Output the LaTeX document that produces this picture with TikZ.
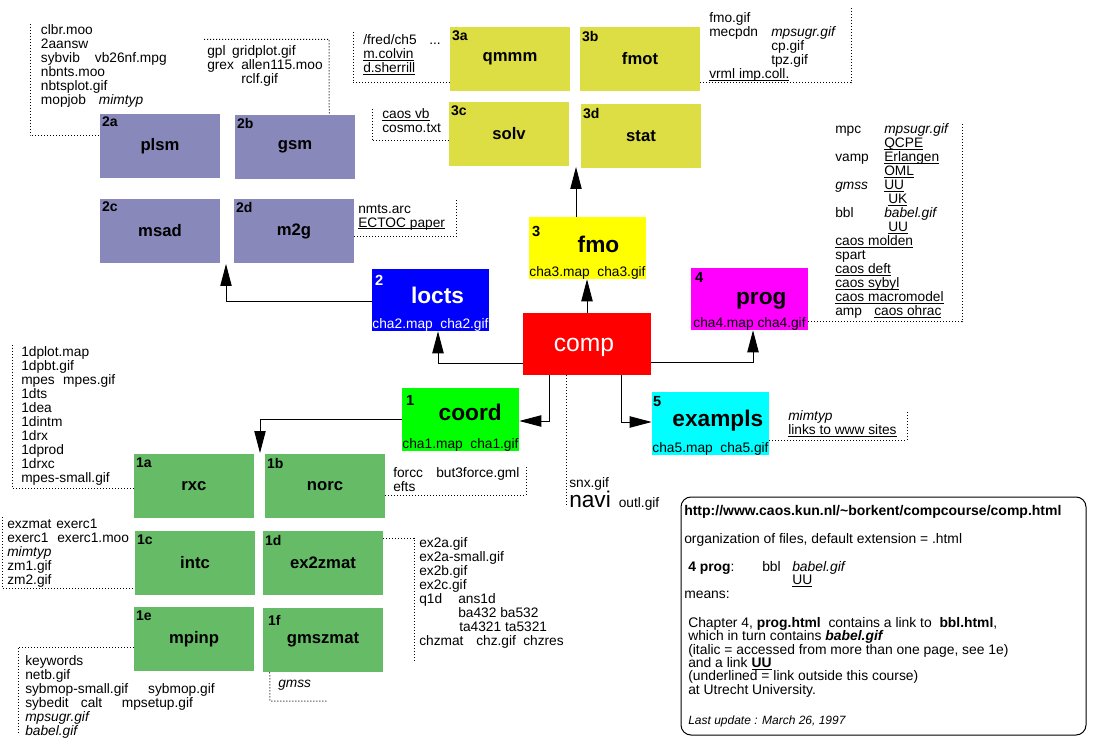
\documentclass[tikz,border=0pt]{standalone}
\usepackage{fontspec}
\setmainfont{Liberation Sans}
\usetikzlibrary{arrows.meta,calc}
\definecolor{purp}{RGB}{136,136,187}
\definecolor{olive3}{RGB}{221,221,68}
\definecolor{grn1}{RGB}{102,187,102}
\definecolor{pyellow}{RGB}{255,255,0}
\definecolor{pblue}{RGB}{0,0,255}
\definecolor{pred}{RGB}{255,0,0}
\definecolor{pmag}{RGB}{255,0,255}
\definecolor{pgreen}{RGB}{0,255,0}
\definecolor{pcyan}{RGB}{0,255,255}
\newcommand\filefont{\fontsize{10.3}{10.5}\selectfont\lineskiplimit=-20pt\relax}
\newcommand\infofont{\fontsize{10.4}{10}\selectfont\lineskiplimit=-20pt\relax}
\newcommand\lnk[1]{\leavevmode\setbox0=\hbox{#1}\rlap{\rule[-1.6pt]{\wd0}{0.6pt}}\box0}
\begin{document}
\begin{tikzpicture}[x=0.75pt,y=-0.75pt,
  sbox/.style={minimum width=90pt,minimum height=48pt,inner sep=0pt,font=\fontsize{12.5}{15}\selectfont\bfseries},
  bbox/.style={minimum width=87.75pt,minimum height=46.5pt,inner sep=0pt},
  tag/.style={anchor=north west,inner sep=0pt,font=\fontsize{10.5}{12}\selectfont\bfseries},
  bigtag/.style={anchor=north west,inner sep=0pt,font=\fontsize{11}{12}\selectfont\bfseries},
  big/.style={anchor=base,inner sep=0pt,font=\fontsize{17}{20}\selectfont\bfseries},
  maps/.style={anchor=base,inner sep=0pt,font=\fontsize{10.3}{12}\selectfont},
  files/.style={anchor=north west,inner sep=0pt,align=left,font=\filefont},
  dots/.style={line width=0.75pt,dash pattern=on 0.75pt off 1.5pt},
  arr/.style={line width=0.75pt,-{Triangle[length=16.5pt,width=8.5pt]}}]
\useasboundingbox (0,0) rectangle (1093,752);
\fill[white] (0,0) rectangle (1093,752);

% ---------- chapter 2 group ----------
\node[sbox,fill=purp] (plsm) at (160,146) {plsm};
\node[tag] (plsm-t) at ($(plsm.north west)+(2,3)$) {2a};
\node[sbox,fill=purp] (gsm) at (295,147) {gsm};
\node[tag] (gsm-t) at ($(gsm.north west)+(2,3)$) {2b};
\node[sbox,fill=purp] (msad) at (160,231) {msad};
\node[tag] (msad-t) at ($(msad.north west)+(2,3)$) {2c};
\node[sbox,fill=purp] (m2g) at (294,231) {m2g};
\node[tag] (m2g-t) at ($(m2g.north west)+(2,3)$) {2d};

% ---------- chapter 3 group ----------
\node[sbox,fill=olive3] (qmmm) at (510,59) {qmmm};
\node[tag] (qmmm-t) at ($(qmmm.north west)+(2,4)$) {3a};
\node[sbox,fill=olive3] (fmot) at (640,59) {fmot};
\node[tag] (fmot-t) at ($(fmot.north west)+(2,4)$) {3b};
\node[sbox,fill=olive3] (solv) at (509,134) {solv};
\node[tag] (solv-t) at ($(solv.north west)+(2,4)$) {3c};
\node[sbox,fill=olive3] (stat) at (641,136) {stat};
\node[tag] (stat-t) at ($(stat.north west)+(2,4)$) {3d};

% ---------- chapter 1 group ----------
\node[sbox,fill=grn1] (rxc) at (194,486) {rxc};
\node[tag] (rxc-t) at ($(rxc.north west)+(2,4)$) {1a};
\node[sbox,fill=grn1] (norc) at (325,486) {norc};
\node[tag] (norc-t) at ($(norc.north west)+(2,4)$) {1b};
\node[sbox,fill=grn1] (intc) at (195,563) {intc};
\node[tag] (intc-t) at ($(intc.north west)+(2,4)$) {1c};
\node[sbox,fill=grn1] (ex2zmat) at (323,563) {ex2zmat};
\node[tag] (ex2zmat-t) at ($(ex2zmat.north west)+(2,4)$) {1d};
\node[sbox,fill=grn1] (mpinp) at (194,639) {mpinp};
\node[tag] (mpinp-t) at ($(mpinp.north west)+(2,4)$) {1e};
\node[sbox,fill=grn1] (gmszmat) at (323,640) {gmszmat};
\node[tag] (gmszmat-t) at ($(gmszmat.north west)+(5,7)$) {1f};

% ---------- chapter boxes ----------
\node[bbox,fill=pyellow] (fmo) at (587.5,248) {};
\node[bigtag] (fmo-n) at ($(fmo.north west)+(3,9)$) {3};
\node[big] (fmo-l) at ($(fmo.center)+(11,4.7)$) {fmo};
\node[maps] (fmo-m) at ($(fmo.south)+(0,-3)$) {cha3.map\ \ cha3.gif};

\node[bbox,fill=pblue] (locts) at (430.5,300) {};
\node[bigtag,text=white] (locts-n) at ($(locts.north west)+(3,6)$) {2};
\node[big,text=white] (locts-l) at ($(locts.center)+(7,4)$) {locts};
\node[maps,text=white] (locts-m) at ($(locts.south)+(0,-3)$) {cha2.map\ \ cha2.gif};

\node[bbox,fill=pred,minimum width=96pt] (comp) at (587,344) {};
\node[anchor=base,inner sep=0pt,text=white,font=\fontsize{18.5}{22}\selectfont] (comp-l) at ($(comp.center)+(-3,7.7)$) {comp};

\node[bbox,fill=pmag] (prog) at (749.5,299) {};
\node[bigtag] (prog-n) at ($(prog.north west)+(4,4)$) {4};
\node[big] (prog-l) at ($(prog.center)+(11.8,6)$) {prog};
\node[maps] (prog-m) at ($(prog.south)+(0,-3)$) {cha4.map cha4.gif};

\node[bbox,fill=pgreen,minimum height=47.25pt] (coord) at (460.5,419.5) {};
\node[bigtag] (coord-n) at ($(coord.north west)+(4,7)$) {1};
\node[big] (coord-l) at ($(coord.center)+(9.7,1.2)$) {coord};
\node[maps] (coord-m) at ($(coord.south)+(0,-3)$) {cha1.map\ \ cha1.gif};

\node[bbox,fill=pcyan,minimum height=47.25pt] (exampls) at (710.5,423.5) {};
\node[bigtag] (exampls-n) at ($(exampls.north west)+(1,4)$) {5};
\node[big] (exampls-l) at ($(exampls.center)+(7.3,3.2)$) {exampls};
\node[maps] (exampls-m) at ($(exampls.south)+(0,-3)$) {cha5.map\ \ cha5.gif};

% ---------- group targets ----------
\coordinate (g2) at (226,264);
\coordinate (g3) at (576,167);
\coordinate (g1) at (260,453);

% ---------- connectors ----------
\draw[arr] (fmo.north -| g3) -- (g3);
\draw[arr] (comp.north) -- (comp.north |- fmo.south);
\draw[arr] ($(comp.west)+(0,20)$) -| ($(locts.south)+(7.5,0)$);
\draw[arr] ($(locts.west)+(0,2)$) -| (g2);
\draw[arr] ($(comp.east)+(0,19)$) -| ($(prog.south)+(3.5,0)$);
\draw[arr] ($(comp.south)+(-38,0)$) |- ($(coord.east)+(0,1.5)$);
\draw[arr] ($(comp.south)+(34,0)$) |- ($(exampls.west)+(0,-1.5)$);
\draw[arr] ($(coord.west)+(0,-0.5)$) -| (g1);

% ---------- file lists ----------
\node[files] (plsmf) at (40.7,24) {clbr.moo\\2aansw\\\makebox[40.5pt][l]{sybvib}vb26nf.mpg\\nbnts.moo\\nbtsplot.gif\\\makebox[43.5pt][l]{mopjob}\textit{mimtyp}};
\draw[dots] (30,24) -- (30,136) -- ($(plsm.west)+(0,-10)$);

\node[files] (gsmf) at (207,45) {\makebox[18.75pt][l]{gpl}gridplot.gif\\\makebox[25.5pt][l]{grex}allen115.moo\\\hspace*{25.5pt}rclf.gif};
\draw[dots] (204,39.5) -- (329,39.5) -- ($(gsm.north east)+(-26,0)$);

\node[files] (m2gf) at (358,204) {nmts.arc\\\lnk{ECTOC paper}};
\draw[dots] ($(m2g.east)+(0,6)$) -- (456,237) -- (456,198);

\node[files] (qmmmf) at (363,34) {\makebox[49.5pt][l]{/fred/ch5}...\\\lnk{m.colvin}\\\lnk{d.sherrill}};
\draw[dots] (353,32) -- (353,83) -- ($(qmmm.west)+(0,24)$);

\node[files] (solvf) at (382,108) {\lnk{caos vb}\\cosmo.txt};
\draw[dots] (372,109) -- (372,141) -- ($(solv.west)+(0,7)$);

\node[files] (fmotf) at (709,12) {fmo.gif\\\makebox[46.5pt][l]{mecpdn}\textit{mpsugr.gif}\\\hspace*{46.5pt}cp.gif\\\hspace*{46.5pt}tpz.gif\\\lnk{vrml imp.coll.}};
\draw[dots] ($(fmot.east)+(0,24)$) -- (851,83) -- (851,6);

\node[files] (progf) at (835,123) {\makebox[36.75pt][l]{mpc}\textit{mpsugr.gif}\\
\hspace*{36.75pt}\lnk{QCPE}\\
\makebox[36.75pt][l]{vamp}\lnk{Erlangen}\\
\hspace*{36.75pt}\lnk{OML}\\
\makebox[36.75pt][l]{\textit{gmss}}\lnk{UU}\\
\hspace*{39.75pt}\lnk{UK}\\
\makebox[36.75pt][l]{bbl}\textit{babel.gif}\\
\hspace*{39.75pt}\lnk{UU}\\
\lnk{caos molden}\\
spart\\
\lnk{caos deft}\\
\lnk{caos sybyl}\\
\lnk{caos macromodel}\\
\makebox[29.25pt][l]{amp}\lnk{caos ohrac}};
\draw[dots] ($(prog.east)+(0,23)$) -- (962,322) -- (962,122);

\node[files] (examplsf) at (788,410) {\textit{mimtyp}\\\lnk{links to www sites}};
\draw[dots] ($(exampls.east)+(0,16.5)$) -- (907,440) -- (907,410);

\node[files] (rxcf) at (21,346) {1dplot.map\\1dpbt.gif\\\makebox[31.5pt][l]{mpes}mpes.gif\\1dts\\1dea\\1dintm\\1drx\\1dprod\\1drxc\\mpes-small.gif};
\draw[dots] (12,345) -- (12,488) -- ($(rxc.west)+(0,2)$);

\node[files] (norcf) at (393,467) {\makebox[32.25pt][l]{forcc}but3force.gml\\efts};
\draw[dots] ($(norc.east)+(0,9)$) -- (526,495) -- (526,466);

\node[files] (intcf) at (7,519) {\makebox[36.75pt][l]{exzmat}exerc1\\\makebox[37.5pt][l]{exerc1}exerc1.moo\\\textit{mimtyp}\\zm1.gif\\zm2.gif};
\draw[dots] (2,517) -- (2,588) -- ($(intc.west)+(0,25)$);

\node[files] (ex2zmatf) at (419,537) {ex2a.gif\\ex2a-small.gif\\ex2b.gif\\ex2c.gif\\\makebox[29.25pt][l]{q1d}ans1d\\\hspace*{29.25pt}ba432 ba532\\\hspace*{30pt}ta4321 ta5321\\\makebox[42.75pt][l]{chzmat}\makebox[35.25pt][l]{chz.gif}chzres};
\draw[dots] ($(ex2zmat.east)+(0,-25)$) -- (414,538) -- (414,662);

\node[files] (mpinpf) at (25,655) {keywords\\netb.gif\\\makebox[92.25pt][l]{sybmop-small.gif}sybmop.gif\\\makebox[41.75pt][l]{sybedit}\makebox[30.75pt][l]{calt}mpsetup.gif\\\textit{mpsugr.gif}\\\textit{babel.gif}};
\draw[dots] ($(mpinp.west)+(0,8)$) -- (18,647) -- (18,733);

\node[files] (gmszmatf) at (278,680) {\textit{gmss}};
\draw[dots] ($(gmszmat.south west)+(7,0)$) -- (270,701) -- (327,701);

% ---------- navi ----------
\draw[dots] ($(comp.south)+(-21,0)$) -- ++(0,132);
\node[anchor=base west,inner sep=0pt,font=\filefont] (snx) at (569,487) {snx.gif};
\node[anchor=base west,inner sep=0pt,font=\filefont] (navi) at (569,507) {{\fontsize{17}{20}\selectfont navi}\hspace{6pt}outl.gif};

% ---------- info box ----------
\node[draw,line width=0.75pt,rounded corners=7.5pt,minimum width=303.75pt,minimum height=178.5pt,inner sep=0pt] (info) at (883.5,616) {};
\node[anchor=north west,inner sep=0pt,align=left,font=\infofont] (infotxt) at (684,505) {%
{\fontsize{10.5}{10}\selectfont\bfseries http://www.caos.kun.nl/\textasciitilde borkent/compcourse/comp.html}\\[11pt]
organization of files, default extension = .html\\[11pt]
\makebox[58.5pt][l]{\hspace*{3pt}\textbf{4 prog}:}\makebox[22.5pt][l]{bbl}\textit{babel.gif}\\
\hspace*{81pt}\lnk{UU}\\
means:\\[12pt]
\hspace*{3pt}Chapter 4, \textbf{prog.html}\ \ contains a link to\ \ \textbf{bbl.html},\\
\hspace*{3pt}which in turn contains \textbf{\textit{babel.gif}}\\
\hspace*{3pt}(italic = accessed from more than one page, see 1e)\\
\hspace*{3pt}and a link \textbf{\lnk{UU}}\\
\hspace*{3pt}(underlined = link outside this course)\\
\hspace*{3pt}at Utrecht University.\\[12.5pt]
\hspace*{3pt}{\fontsize{9}{10}\selectfont\itshape Last update : March 26, 1997}};
\end{tikzpicture}
\end{document}
